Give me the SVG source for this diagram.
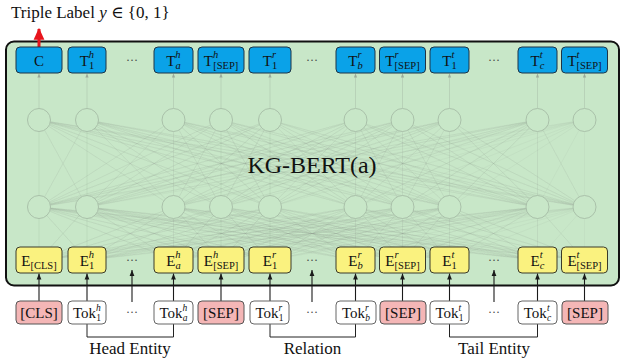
<svg xmlns="http://www.w3.org/2000/svg" width="626" height="361" viewBox="0 0 626 361" font-family="'Liberation Serif', 'Times New Roman', 'DejaVu Serif', serif">
<defs>
<style>
text{font-family:"Liberation Serif","Times New Roman","DejaVu Serif",serif;fill:#111}
.m{font-size:15px;text-anchor:middle}
.s{font-size:10.5px}
.ss{font-size:9.5px}
.it{font-style:italic}
.dots{font-size:12px;fill:#444;text-anchor:middle}
.lab{font-size:17px;text-anchor:middle}
.tb{fill:#0aa2e8;stroke:#1e3446;stroke-width:1}
.eb{fill:#faf27f;stroke:#3a3a2a;stroke-width:1}
.rb{fill:#f4b6b6;stroke:#555;stroke-width:1}
.wb{fill:#fff;stroke:#666;stroke-width:1}
.n{fill:#c8e7c8;stroke:#a6bca6;stroke-width:0.9}
.faint{fill:none;stroke:#8e9e8e;stroke-opacity:0.17;stroke-width:0.55}
.vf{fill:none;stroke:#8e9e8e;stroke-opacity:0.4;stroke-width:0.7}
.arr{fill:none;stroke:#1a1a1a;stroke-width:1.1}
.br{fill:none;stroke:#222;stroke-width:1}
</style>
<marker id="ah" viewBox="0 0 6 6" refX="6" refY="3" markerWidth="6" markerHeight="6" markerUnits="userSpaceOnUse" orient="auto"><path d="M0,0.6L6,3L0,5.4z" fill="#1a1a1a"/></marker>
<marker id="fh" viewBox="0 0 6 6" refX="6" refY="3" markerWidth="4" markerHeight="4" markerUnits="userSpaceOnUse" orient="auto"><path d="M0,0.6L6,3L0,5.4z" fill="#9aaa9a"/></marker>
<marker id="rh" viewBox="0 0 10 10" refX="9" refY="5" markerWidth="12" markerHeight="12" markerUnits="userSpaceOnUse" orient="auto"><path d="M0,0.5L10,5L0,9.5z" fill="#e8141c"/></marker>
</defs>

<text x="11" y="18" style="font-size:17px">Triple Label <tspan class="it">y</tspan> ∈ {0, 1}</text>

<g id="frame">
<rect x="6" y="41.5" width="613" height="244" rx="8" fill="#c8e7c8" stroke="#111" stroke-width="2"/>
</g>

<g id="connectors">
<path class="faint" d="M39 207L39 120L39 207L87 120L39 207L173.5 120L39 207L221 120L39 207L270 120L39 207L355.5 120L39 207L402.5 120L39 207L449.5 120L39 207L537.5 120L39 207L584.5 120
M87 207L39 120L87 207L87 120L87 207L173.5 120L87 207L221 120L87 207L270 120L87 207L355.5 120L87 207L402.5 120L87 207L449.5 120L87 207L537.5 120L87 207L584.5 120
M173.5 207L39 120L173.5 207L87 120L173.5 207L173.5 120L173.5 207L221 120L173.5 207L270 120L173.5 207L355.5 120L173.5 207L402.5 120L173.5 207L449.5 120L173.5 207L537.5 120L173.5 207L584.5 120
M221 207L39 120L221 207L87 120L221 207L173.5 120L221 207L221 120L221 207L270 120L221 207L355.5 120L221 207L402.5 120L221 207L449.5 120L221 207L537.5 120L221 207L584.5 120
M270 207L39 120L270 207L87 120L270 207L173.5 120L270 207L221 120L270 207L270 120L270 207L355.5 120L270 207L402.5 120L270 207L449.5 120L270 207L537.5 120L270 207L584.5 120
M355.5 207L39 120L355.5 207L87 120L355.5 207L173.5 120L355.5 207L221 120L355.5 207L270 120L355.5 207L355.5 120L355.5 207L402.5 120L355.5 207L449.5 120L355.5 207L537.5 120L355.5 207L584.5 120
M402.5 207L39 120L402.5 207L87 120L402.5 207L173.5 120L402.5 207L221 120L402.5 207L270 120L402.5 207L355.5 120L402.5 207L402.5 120L402.5 207L449.5 120L402.5 207L537.5 120L402.5 207L584.5 120
M449.5 207L39 120L449.5 207L87 120L449.5 207L173.5 120L449.5 207L221 120L449.5 207L270 120L449.5 207L355.5 120L449.5 207L402.5 120L449.5 207L449.5 120L449.5 207L537.5 120L449.5 207L584.5 120
M537.5 207L39 120L537.5 207L87 120L537.5 207L173.5 120L537.5 207L221 120L537.5 207L270 120L537.5 207L355.5 120L537.5 207L402.5 120L537.5 207L449.5 120L537.5 207L537.5 120L537.5 207L584.5 120
M584.5 207L39 120L584.5 207L87 120L584.5 207L173.5 120L584.5 207L221 120L584.5 207L270 120L584.5 207L355.5 120L584.5 207L402.5 120L584.5 207L449.5 120L584.5 207L537.5 120L584.5 207L584.5 120"/>
<path class="faint" d="M39 260L39 207L39 260L87 207L39 260L173.5 207L39 260L221 207L39 260L270 207L39 260L355.5 207L39 260L402.5 207L39 260L449.5 207L39 260L537.5 207L39 260L584.5 207
M87 260L39 207L87 260L87 207L87 260L173.5 207L87 260L221 207L87 260L270 207L87 260L355.5 207L87 260L402.5 207L87 260L449.5 207L87 260L537.5 207L87 260L584.5 207
M173.5 260L39 207L173.5 260L87 207L173.5 260L173.5 207L173.5 260L221 207L173.5 260L270 207L173.5 260L355.5 207L173.5 260L402.5 207L173.5 260L449.5 207L173.5 260L537.5 207L173.5 260L584.5 207
M221 260L39 207L221 260L87 207L221 260L173.5 207L221 260L221 207L221 260L270 207L221 260L355.5 207L221 260L402.5 207L221 260L449.5 207L221 260L537.5 207L221 260L584.5 207
M270 260L39 207L270 260L87 207L270 260L173.5 207L270 260L221 207L270 260L270 207L270 260L355.5 207L270 260L402.5 207L270 260L449.5 207L270 260L537.5 207L270 260L584.5 207
M355.5 260L39 207L355.5 260L87 207L355.5 260L173.5 207L355.5 260L221 207L355.5 260L270 207L355.5 260L355.5 207L355.5 260L402.5 207L355.5 260L449.5 207L355.5 260L537.5 207L355.5 260L584.5 207
M402.5 260L39 207L402.5 260L87 207L402.5 260L173.5 207L402.5 260L221 207L402.5 260L270 207L402.5 260L355.5 207L402.5 260L402.5 207L402.5 260L449.5 207L402.5 260L537.5 207L402.5 260L584.5 207
M449.5 260L39 207L449.5 260L87 207L449.5 260L173.5 207L449.5 260L221 207L449.5 260L270 207L449.5 260L355.5 207L449.5 260L402.5 207L449.5 260L449.5 207L449.5 260L537.5 207L449.5 260L584.5 207
M537.5 260L39 207L537.5 260L87 207L537.5 260L173.5 207L537.5 260L221 207L537.5 260L270 207L537.5 260L355.5 207L537.5 260L402.5 207L537.5 260L449.5 207L537.5 260L537.5 207L537.5 260L584.5 207
M584.5 260L39 207L584.5 260L87 207L584.5 260L173.5 207L584.5 260L221 207L584.5 260L270 207L584.5 260L355.5 207L584.5 260L402.5 207L584.5 260L449.5 207L584.5 260L537.5 207L584.5 260L584.5 207"/>
<path class="vf" marker-end="url(#fh)" d="M39 108.5V73.5"/>
<path class="vf" marker-end="url(#fh)" d="M87 108.5V73.5"/>
<path class="vf" marker-end="url(#fh)" d="M173.5 108.5V73.5"/>
<path class="vf" marker-end="url(#fh)" d="M221 108.5V73.5"/>
<path class="vf" marker-end="url(#fh)" d="M270 108.5V73.5"/>
<path class="vf" marker-end="url(#fh)" d="M355.5 108.5V73.5"/>
<path class="vf" marker-end="url(#fh)" d="M402.5 108.5V73.5"/>
<path class="vf" marker-end="url(#fh)" d="M449.5 108.5V73.5"/>
<path class="vf" marker-end="url(#fh)" d="M537.5 108.5V73.5"/>
<path class="vf" marker-end="url(#fh)" d="M584.5 108.5V73.5"/>
<path d="M39 47V29" stroke="#e8141c" stroke-width="3" fill="none" marker-end="url(#rh)"/>
<path class="arr" marker-end="url(#ah)" d="M39 301V273.5"/>
<path class="arr" marker-end="url(#ah)" d="M87 301V273.5"/>
<path class="arr" marker-end="url(#ah)" d="M132 302V270"/>
<path class="arr" marker-end="url(#ah)" d="M173.5 301V273.5"/>
<path class="arr" marker-end="url(#ah)" d="M221 301V273.5"/>
<path class="arr" marker-end="url(#ah)" d="M270 301V273.5"/>
<path class="arr" marker-end="url(#ah)" d="M312 302V270"/>
<path class="arr" marker-end="url(#ah)" d="M355.5 301V273.5"/>
<path class="arr" marker-end="url(#ah)" d="M402.5 301V273.5"/>
<path class="arr" marker-end="url(#ah)" d="M449.5 301V273.5"/>
<path class="arr" marker-end="url(#ah)" d="M494 302V270"/>
<path class="arr" marker-end="url(#ah)" d="M537.5 301V273.5"/>
<path class="arr" marker-end="url(#ah)" d="M584.5 301V273.5"/>
<path class="br" d="M87 324V337H173.5V324"/>
<path class="br" d="M270 324V337H355.5V324"/>
<path class="br" d="M449.5 324V337H537.5V324"/>
</g>

<g id="neurons">
<circle class="n" cx="39" cy="120" r="11.5"/><circle class="n" cx="87" cy="120" r="11.5"/><circle class="n" cx="173.5" cy="120" r="11.5"/><circle class="n" cx="221" cy="120" r="11.5"/><circle class="n" cx="270" cy="120" r="11.5"/><circle class="n" cx="355.5" cy="120" r="11.5"/><circle class="n" cx="402.5" cy="120" r="11.5"/><circle class="n" cx="449.5" cy="120" r="11.5"/><circle class="n" cx="537.5" cy="120" r="11.5"/><circle class="n" cx="584.5" cy="120" r="11.5"/>
<circle class="n" cx="39" cy="207" r="11.5"/><circle class="n" cx="87" cy="207" r="11.5"/><circle class="n" cx="173.5" cy="207" r="11.5"/><circle class="n" cx="221" cy="207" r="11.5"/><circle class="n" cx="270" cy="207" r="11.5"/><circle class="n" cx="355.5" cy="207" r="11.5"/><circle class="n" cx="402.5" cy="207" r="11.5"/><circle class="n" cx="449.5" cy="207" r="11.5"/><circle class="n" cx="537.5" cy="207" r="11.5"/><circle class="n" cx="584.5" cy="207" r="11.5"/>
</g>

<text x="312" y="173" style="font-size:24px;text-anchor:middle">KG-BERT(a)</text>

<g id="T_C"><rect class="tb" x="16" y="47" width="46" height="26" rx="4"/><text class="m" x="39" y="65.5">C</text></g>
<g id="T_h1"><rect class="tb" x="68" y="47" width="38" height="26" rx="4"/><text class="m" x="87" y="65.5">T<tspan class="s it" dy="-8">h</tspan><tspan class="s" dx="-5" dy="11">1</tspan></text></g>
<text class="dots" x="132" y="64">···</text>
<g id="T_ha"><rect class="tb" x="154" y="47" width="39" height="26" rx="4"/><text class="m" x="173.5" y="65.5">T<tspan class="s it" dy="-8">h</tspan><tspan class="s it" dx="-5" dy="11">a</tspan></text></g>
<g id="T_hsep"><rect class="tb" x="198" y="47" width="46" height="26" rx="4"/><text class="m" x="221" y="65.5">T<tspan class="s it" dy="-8">h</tspan><tspan class="s" dx="-5" dy="11">[SEP]</tspan></text></g>
<g id="T_r1"><rect class="tb" x="249" y="47" width="42" height="26" rx="4"/><text class="m" x="270" y="65.5">T<tspan class="s it" dy="-8">r</tspan><tspan class="s" dx="-4" dy="11">1</tspan></text></g>
<text class="dots" x="312" y="64">···</text>
<g id="T_rb"><rect class="tb" x="336" y="47" width="39" height="26" rx="4"/><text class="m" x="355.5" y="65.5">T<tspan class="s it" dy="-8">r</tspan><tspan class="s it" dx="-4" dy="11">b</tspan></text></g>
<g id="T_rsep"><rect class="tb" x="379.5" y="47" width="46" height="26" rx="4"/><text class="m" x="402.5" y="65.5">T<tspan class="s it" dy="-8">r</tspan><tspan class="s" dx="-4" dy="11">[SEP]</tspan></text></g>
<g id="T_t1"><rect class="tb" x="430" y="47" width="39" height="26" rx="4"/><text class="m" x="449.5" y="65.5">T<tspan class="s it" dy="-8">t</tspan><tspan class="s" dx="-3" dy="11">1</tspan></text></g>
<text class="dots" x="494" y="64">···</text>
<g id="T_tc"><rect class="tb" x="518" y="47" width="39" height="26" rx="4"/><text class="m" x="537.5" y="65.5">T<tspan class="s it" dy="-8">t</tspan><tspan class="s it" dx="-3" dy="11">c</tspan></text></g>
<g id="T_tsep"><rect class="tb" x="561.5" y="47" width="46" height="26" rx="4"/><text class="m" x="584.5" y="65.5">T<tspan class="s it" dy="-8">t</tspan><tspan class="s" dx="-3" dy="11">[SEP]</tspan></text></g>

<g id="E_cls"><rect class="eb" x="16" y="247" width="46" height="26" rx="4"/><text class="m" x="39" y="265.5">E<tspan class="s" dy="3">[CLS]</tspan></text></g>
<g id="E_h1"><rect class="eb" x="68" y="247" width="38" height="26" rx="4"/><text class="m" x="87" y="265.5">E<tspan class="s it" dy="-8">h</tspan><tspan class="s" dx="-5" dy="11">1</tspan></text></g>
<text class="dots" x="132" y="264">···</text>
<g id="E_ha"><rect class="eb" x="154" y="247" width="39" height="26" rx="4"/><text class="m" x="173.5" y="265.5">E<tspan class="s it" dy="-8">h</tspan><tspan class="s it" dx="-5" dy="11">a</tspan></text></g>
<g id="E_hsep"><rect class="eb" x="198" y="247" width="46" height="26" rx="4"/><text class="m" x="221" y="265.5">E<tspan class="s it" dy="-8">h</tspan><tspan class="s" dx="-5" dy="11">[SEP]</tspan></text></g>
<g id="E_r1"><rect class="eb" x="249" y="247" width="42" height="26" rx="4"/><text class="m" x="270" y="265.5">E<tspan class="s it" dy="-8">r</tspan><tspan class="s" dx="-4" dy="11">1</tspan></text></g>
<text class="dots" x="312" y="264">···</text>
<g id="E_rb"><rect class="eb" x="336" y="247" width="39" height="26" rx="4"/><text class="m" x="355.5" y="265.5">E<tspan class="s it" dy="-8">r</tspan><tspan class="s it" dx="-4" dy="11">b</tspan></text></g>
<g id="E_rsep"><rect class="eb" x="379.5" y="247" width="46" height="26" rx="4"/><text class="m" x="402.5" y="265.5">E<tspan class="s it" dy="-8">r</tspan><tspan class="s" dx="-4" dy="11">[SEP]</tspan></text></g>
<g id="E_t1"><rect class="eb" x="430" y="247" width="39" height="26" rx="4"/><text class="m" x="449.5" y="265.5">E<tspan class="s it" dy="-8">t</tspan><tspan class="s" dx="-3" dy="11">1</tspan></text></g>
<text class="dots" x="494" y="264">···</text>
<g id="E_tc"><rect class="eb" x="518" y="247" width="39" height="26" rx="4"/><text class="m" x="537.5" y="265.5">E<tspan class="s it" dy="-8">t</tspan><tspan class="s it" dx="-3" dy="11">c</tspan></text></g>
<g id="E_tsep"><rect class="eb" x="561.5" y="247" width="46" height="26" rx="4"/><text class="m" x="584.5" y="265.5">E<tspan class="s it" dy="-8">t</tspan><tspan class="s" dx="-3" dy="11">[SEP]</tspan></text></g>

<g id="tok_cls"><rect class="rb" x="16" y="301" width="46" height="23" rx="4"/><text class="m" x="39" y="317.5">[CLS]</text></g>
<g id="tok_h1"><rect class="wb" x="68" y="301" width="38" height="23" rx="4"/><text class="m" x="87" y="317.5">Tok<tspan class="ss it" dy="-7">h</tspan><tspan class="ss" dx="-4.5" dy="10">1</tspan></text></g>
<text class="dots" x="132" y="316">···</text>
<g id="tok_ha"><rect class="wb" x="154" y="301" width="39" height="23" rx="4"/><text class="m" x="173.5" y="317.5">Tok<tspan class="ss it" dy="-7">h</tspan><tspan class="ss it" dx="-4.5" dy="10">a</tspan></text></g>
<g id="tok_sep1"><rect class="rb" x="198" y="301" width="46" height="23" rx="4"/><text class="m" x="221" y="317.5">[SEP]</text></g>
<g id="tok_r1"><rect class="wb" x="250" y="301" width="39" height="23" rx="4"/><text class="m" x="269.5" y="317.5">Tok<tspan class="ss it" dy="-7">r</tspan><tspan class="ss" dx="-3.5" dy="10">1</tspan></text></g>
<text class="dots" x="312" y="316">···</text>
<g id="tok_rb"><rect class="wb" x="336" y="301" width="40" height="23" rx="4"/><text class="m" x="356" y="317.5">Tok<tspan class="ss it" dy="-7">r</tspan><tspan class="ss it" dx="-3.5" dy="10">b</tspan></text></g>
<g id="tok_sep2"><rect class="rb" x="380" y="301" width="46" height="23" rx="4"/><text class="m" x="403" y="317.5">[SEP]</text></g>
<g id="tok_t1"><rect class="wb" x="430" y="301" width="39" height="23" rx="4"/><text class="m" x="449.5" y="317.5">Tok<tspan class="ss it" dy="-7">t</tspan><tspan class="ss" dx="-2.5" dy="10">1</tspan></text></g>
<text class="dots" x="494" y="316">···</text>
<g id="tok_tc"><rect class="wb" x="518" y="301" width="39" height="23" rx="4"/><text class="m" x="537.5" y="317.5">Tok<tspan class="ss it" dy="-7">t</tspan><tspan class="ss it" dx="-2.5" dy="10">c</tspan></text></g>
<g id="tok_sep3"><rect class="rb" x="562" y="301" width="46" height="23" rx="4"/><text class="m" x="585" y="317.5">[SEP]</text></g>

<text class="lab" x="130" y="353.5">Head Entity</text>
<text class="lab" x="312.5" y="353.5">Relation</text>
<text class="lab" x="494" y="353.5">Tail Entity</text>
</svg>
